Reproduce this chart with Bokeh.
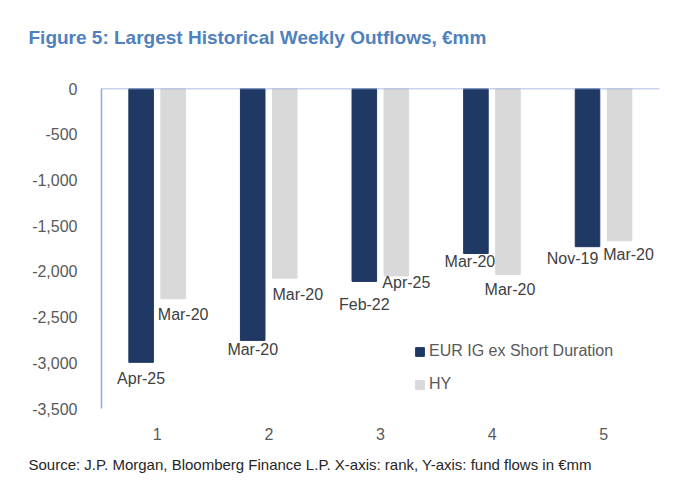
import numpy as np
from bokeh.plotting import figure
from bokeh.core.properties import value
from bokeh.models import (ColumnDataSource, LabelSet, Title, Span, FixedTicker,
                          NumeralTickFormatter, Legend, LegendItem)
from bokeh.transform import dodge
from bokeh.embed import file_html
from bokeh.resources import INLINE

ranks = ["1", "2", "3", "4", "5"]
ig_flows = [-2995, -2755, -2110, -1805, -1730]
hy_flows = [-2300, -2075, -2050, -2035, -1665]
ig_dates = ["Apr-25", "Mar-20", "Feb-22", "Mar-20", "Nov-19"]
hy_dates = ["Mar-20", "Mar-20", "Apr-25", "Mar-20", "Mar-20"]

# label nudges in pixels (Excel placed them by hand)
ig_dx = [0, 0, 0, -6, -15]
ig_dy = [-16, -9, -23, -8, -12]
hy_dx = [10, 13, 10, 2, 9]
hy_dy = [-16, -16, -7, -15, -14]

FONT = "Liberation Sans"
NAVY = "#1f3864"
GREY = "#d9d9d9"
AXIS = "#8eaadb"
TXT = "#595959"

src = ColumnDataSource(dict(rank=ranks, ig=ig_flows, hy=hy_flows,
                            ig_date=ig_dates, hy_date=hy_dates,
                            ig_dx=ig_dx, ig_dy=ig_dy, hy_dx=hy_dx, hy_dy=hy_dy))

p = figure(width=680, height=492, x_range=ranks, y_range=(-3500, 0),
           output_backend="svg", toolbar_location=None,
           min_border_left=101, min_border_right=21,
           min_border_top=88, min_border_bottom=84)
p.outline_line_color = None
p.xgrid.grid_line_color = None
p.ygrid.grid_line_color = None

ig = p.vbar(x=dodge("rank", -0.145, range=p.x_range), top=0, bottom="ig",
            width=0.22, source=src, color=NAVY)
hy = p.vbar(x=dodge("rank", 0.142, range=p.x_range), top=0, bottom="hy",
            width=0.22, source=src, color=GREY)

p.add_layout(Span(location=0, dimension="width", line_color=AXIS, line_width=1.5))

for col, off in (("ig", -0.145), ("hy", 0.142)):
    p.add_layout(LabelSet(x=dodge("rank", off, range=p.x_range), y=col, text=col + "_date",
                          x_offset=col + "_dx", y_offset=col + "_dy", source=src,
                          text_align="center", text_baseline="middle",
                          text_font=value(FONT), text_font_size="16px",
                          text_color="#404040"))

p.yaxis.ticker = FixedTicker(ticks=list(range(-3500, 1, 500)))
p.yaxis.formatter = NumeralTickFormatter(format="0,0")
p.yaxis.axis_line_color = AXIS
p.yaxis.axis_line_width = 1.5
p.yaxis.major_tick_line_color = None
p.yaxis.minor_tick_line_color = None
p.yaxis.major_label_standoff = 18
p.yaxis.major_label_text_font = FONT
p.yaxis.major_label_text_font_size = "16px"
p.yaxis.major_label_text_color = TXT

p.xaxis.axis_line_color = None
p.xaxis.major_tick_line_color = None
p.xaxis.major_label_standoff = 13
p.xaxis.major_label_text_font = FONT
p.xaxis.major_label_text_font_size = "16px"
p.xaxis.major_label_text_color = TXT

legend = Legend(items=[LegendItem(label="EUR IG ex Short Duration", renderers=[ig]),
                       LegendItem(label="HY", renderers=[hy])],
                location=(313, 14), padding=0, margin=0, spacing=13,
                glyph_width=11, glyph_height=11, label_height=20, label_standoff=4,
                border_line_color=None, background_fill_alpha=0,
                label_text_font=FONT, label_text_font_size="16px",
                label_text_color=TXT)
p.add_layout(legend)

# blank strip between the heading and the plot area
p.add_layout(Title(text=" ", text_font_size="1px", standoff=38), "above")
p.add_layout(Title(text="Figure 5: Largest Historical Weekly Outflows, €mm",
                   align="left", offset=-73, standoff=0,
                   text_font=FONT, text_font_size="19px", text_font_style="bold",
                   text_color="#4f81bd"), "above")
p.add_layout(Title(text="Source: J.P. Morgan, Bloomberg Finance L.P. X-axis: rank, Y-axis: fund flows in €mm",
                   align="left", offset=-73, standoff=22,
                   text_font=FONT, text_font_size="15px", text_font_style="normal",
                   text_color="#262626"), "below")

open("out.html", "w").write(file_html(p, INLINE))
